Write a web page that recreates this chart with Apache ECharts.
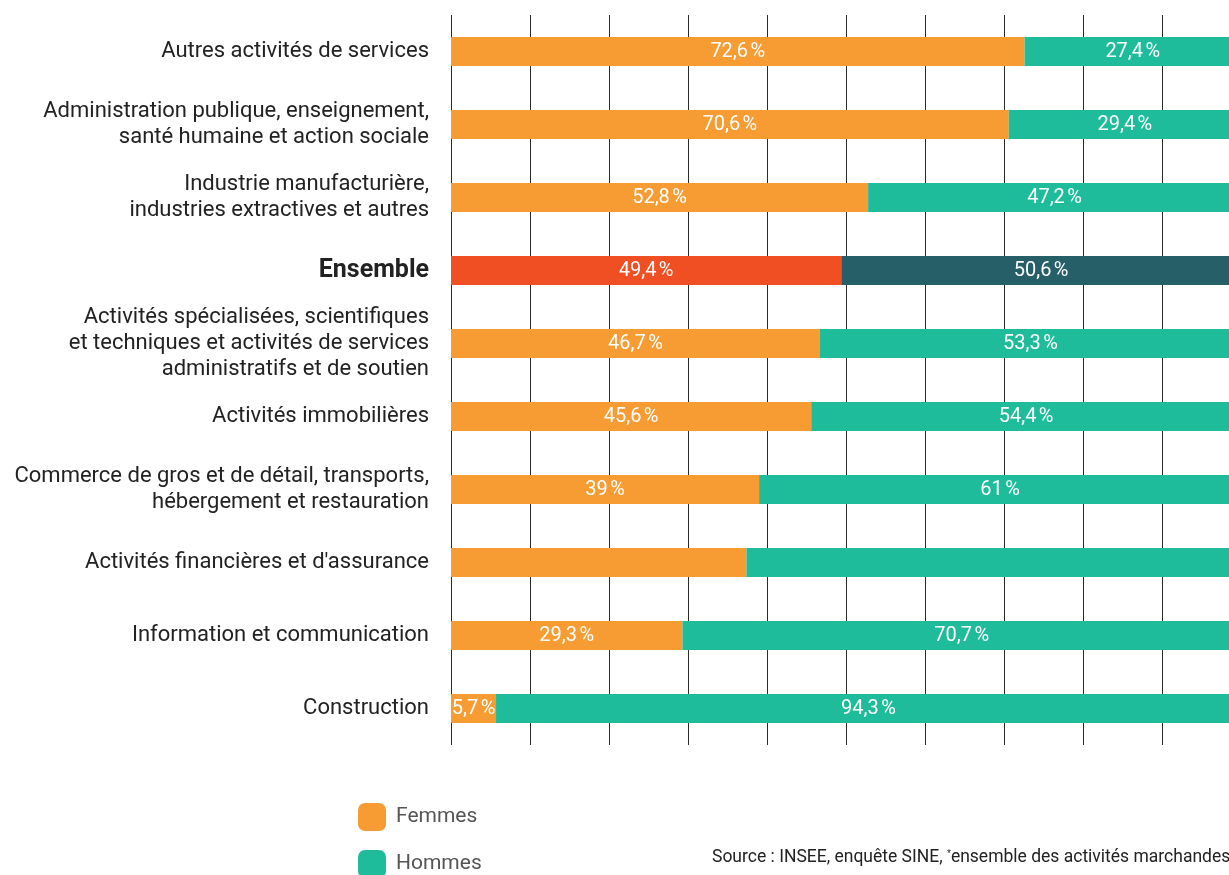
<!DOCTYPE html>
<html>
<head>
<meta charset="utf-8">
<script src="https://cdn.jsdelivr.net/npm/echarts@6/dist/echarts.min.js"></script>
<style>
  html, body { margin: 0; padding: 0; background: #fff; overflow: hidden; }
  /* the plot runs slightly past the right edge of the page, so 100 % sits just off-screen */
  #chart { width: 1245px; height: 875px; }
</style>
</head>
<body>
<div id="chart"></div>
<script>
// Sectors, top to bottom
const categories = [
  'Autres activités de services',
  'Administration publique, enseignement,\nsanté humaine et action sociale',
  'Industrie manufacturière,\nindustries extractives et autres',
  'Ensemble',
  'Activités spécialisées, scientifiques\net techniques et activités de services\nadministratifs et de soutien',
  'Activités immobilières',
  'Commerce de gros et de détail, transports,\nhébergement et restauration',
  'Activités financières et d\'assurance',
  'Information et communication',
  'Construction'
];
// Share of women / men (%)
const femmes = [72.6, 70.6, 52.8, 49.4, 46.7, 45.6, 39, 37.4, 29.3, 5.7];
const hommes = [27.4, 29.4, 47.2, 50.6, 53.3, 54.4, 61, 62.6, 70.7, 94.3];
// Rows whose values are not printed on the bar
const unlabelled = ['Activités financières et d\'assurance'];
const xTicks = [0, 10, 20, 30, 40, 50, 60, 70, 80, 90, 100];

const COL_F = '#F79C33', COL_H = '#1FBC9C';
const COL_F_ALL = '#F04E23', COL_H_ALL = '#265F68';
const FONT = 'Roboto';

function fmt(v) {
  return String(v).replace('.', ',') + '\u202F%';
}

function buildData(values, total) {
  return values.map((v, i) => {
    const cat = categories[i];
    const item = { value: v };
    if (cat === 'Ensemble') item.itemStyle = { color: total };
    if (unlabelled.includes(cat)) item.label = { show: false };
    return item;
  });
}

const labelStyle = {
  show: true,
  position: 'inside',
  color: '#fff',
  fontFamily: FONT,
  fontSize: 20,
  formatter: p => fmt(p.value)
};

const legendBase = {
  orient: 'vertical',
  left: 358,
  padding: 0,
  itemWidth: 28,
  itemHeight: 28,
  icon: 'roundRect',
  textStyle: { color: '#555', fontFamily: FONT, fontSize: 21, padding: [0, 0, 0, 5] }
};

const chart = echarts.init(document.getElementById('chart'), null, { renderer: 'canvas' });
chart.setOption({
  animation: false,
  grid: { left: 451, right: 4, top: 15, bottom: 130, containLabel: false },
  xAxis: {
    type: 'value',
    min: xTicks[0],
    max: xTicks[xTicks.length - 1],
    interval: xTicks[1] - xTicks[0],
    axisLabel: { show: false },
    axisLine: { show: false },
    axisTick: { show: false },
    splitLine: { show: true, lineStyle: { color: '#2b2b2b', width: 1 } }
  },
  yAxis: {
    type: 'category',
    inverse: true,
    data: categories,
    axisLine: { show: false },
    axisTick: { show: false },
    axisLabel: {
      margin: 22,
      color: '#222',
      fontFamily: FONT,
      fontSize: 22,
      lineHeight: 26,
      align: 'right',
      formatter: v => v === 'Ensemble' ? '{b|Ensemble}' : v,
      rich: {
        b: { fontFamily: FONT, fontWeight: 'bold', fontSize: 25, color: '#222' }
      }
    }
  },
  legend: [
    Object.assign({}, legendBase, { top: 803, data: ['Femmes'] }),
    Object.assign({}, legendBase, { top: 850, data: ['Hommes'] })
  ],
  series: [
    {
      name: 'Femmes',
      type: 'bar',
      stack: 'total',
      barWidth: 29,
      itemStyle: { color: COL_F },
      label: labelStyle,
      data: buildData(femmes, COL_F_ALL)
    },
    {
      name: 'Hommes',
      type: 'bar',
      stack: 'total',
      barWidth: 29,
      itemStyle: { color: COL_H },
      label: labelStyle,
      data: buildData(hommes, COL_H_ALL)
    }
  ],
  graphic: [
    {
      type: 'text',
      left: 712,
      top: 849,
      style: {
        text: 'Source : INSEE, enquête SINE, {s|*}ensemble des activités marchandes',
        fill: '#222',
        font: '17.5px Roboto',
        rich: { s: { fontSize: 10, verticalAlign: 'top', padding: [0, 0, 7, 0], fill: '#222' } }
      }
    }
  ]
});
</script>
</body>
</html>
